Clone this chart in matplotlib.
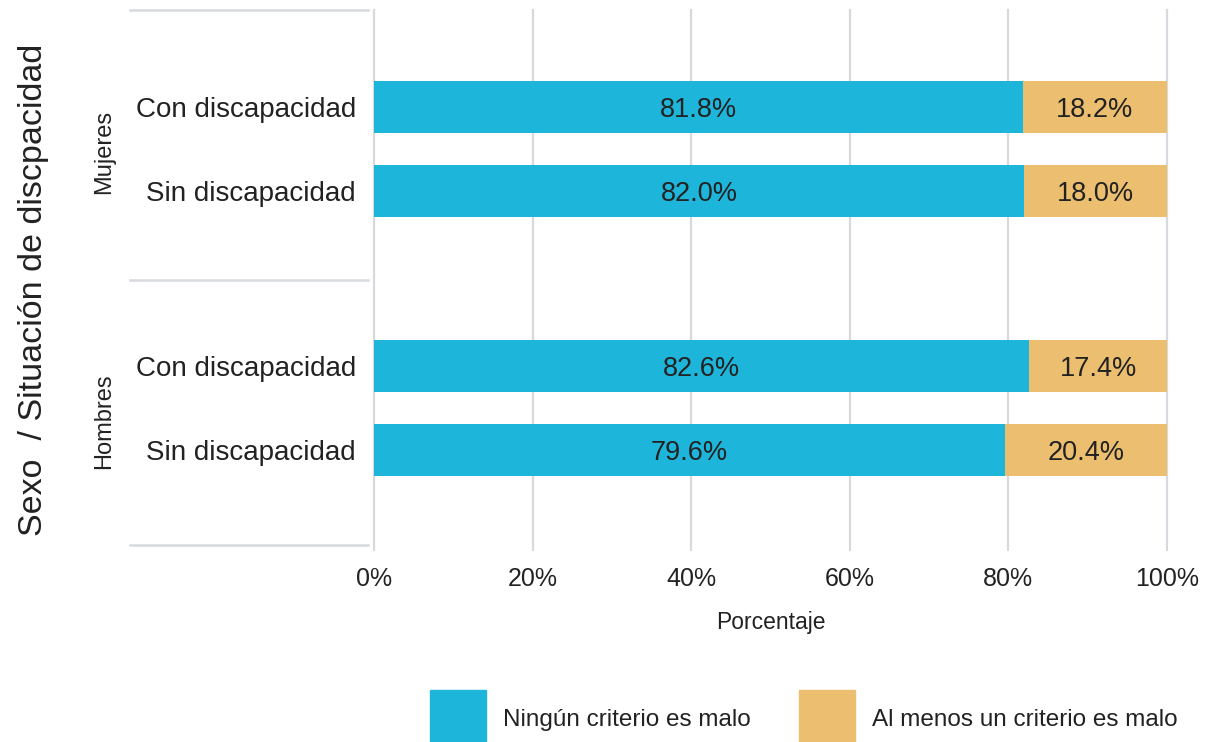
import matplotlib
matplotlib.use("Agg")
import matplotlib.pyplot as plt
from matplotlib.patches import Rectangle
from matplotlib.lines import Line2D
import matplotlib.transforms as mtransforms

plt.rcParams['font.family'] = ['Liberation Sans', 'DejaVu Sans']

# Data
groups = ["Mujeres", "Hombres"]
categories = ["Con discapacidad", "Sin discapacidad",
              "Con discapacidad", "Sin discapacidad"]
ningun = [81.8, 82.0, 82.6, 79.6]
al_menos = [18.2, 18.0, 17.4, 20.4]
series_names = ["Ningún criterio es malo", "Al menos un criterio es malo"]
xticks = [0, 20, 40, 60, 80, 100]
xticklabels = ["0%", "20%", "40%", "60%", "80%", "100%"]

BLUE = "#1eb5db"
ORANGE = "#ecbe70"
GRID = "#d6d9de"
TEXT = "#222222"

W, H = 1214, 742
fig = plt.figure(figsize=(W / 100, H / 100), dpi=100)
ax = fig.add_axes([374 / W, (H - 545) / H, (1167 - 374) / W, (545 - 10) / H])

# bar positions: two groups of two bars
ypos = [0.0, 1.0, 3.08, 4.08]
bar_h = 0.62

ax.barh(ypos, ningun, height=bar_h, color=BLUE, zorder=3)
ax.barh(ypos, al_menos, left=ningun, height=bar_h, color=ORANGE, zorder=3)

for y, a, b in zip(ypos, ningun, al_menos):
    ax.text(a / 2, y + 0.03, f"{a:.1f}%", ha="center", va="center",
            fontsize=19.5, color=TEXT, zorder=4)
    ax.text(a + b / 2, y + 0.03, f"{b:.1f}%", ha="center", va="center",
            fontsize=19.5, color=TEXT, zorder=4)

ax.set_xlim(0, 100)
ax.set_ylim(5.21, -1.16)

ax.set_yticks(ypos)
ax.set_yticklabels(categories, fontsize=20, color=TEXT)
ax.tick_params(axis="y", length=0, pad=13)

ax.set_xticks(xticks)
ax.set_xticklabels(xticklabels, fontsize=18, color=TEXT)
ax.tick_params(axis="x", length=4, width=1.5, color=GRID, pad=12)

ax.xaxis.grid(True, color=GRID, linewidth=1.6, zorder=0)
ax.set_axisbelow(True)
for gl in ax.get_xgridlines():
    gl.set_clip_on(False)
for s in ax.spines.values():
    s.set_visible(False)

ax.set_xlabel("Porcentaje", fontsize=16.5, color=TEXT, labelpad=14)

# group separators on the left
trans = mtransforms.blended_transform_factory(ax.transAxes, ax.transData)
x0, x1 = (130 - 374) / (1167 - 374), (368 - 374) / (1167 - 374)
for yy in [-1.16, 2.05, 5.21]:
    ax.add_line(Line2D([x0, x1], [yy, yy], transform=trans, color=GRID,
                       linewidth=1.8, clip_on=False))

# group labels
gx = 104 / W
fig.text(gx, (H - 152) / H, groups[0], rotation=90, ha="center", va="center",
         fontsize=17, color=TEXT)
fig.text(gx, (H - 421) / H, groups[1], rotation=90, ha="center", va="center",
         fontsize=17, color=TEXT)

fig.text(34 / W, (H - 290) / H, "Sexo  / Situación de discpacidad",
         rotation=90, ha="center", va="center", fontsize=24.5, color=TEXT)

# legend
fig.add_artist(Rectangle((430 / W, 0), 56 / W, 52 / H,
                         transform=fig.transFigure, color=BLUE))
fig.text(503 / W, (H - 720) / H, series_names[0], ha="left", va="center",
         fontsize=17.5, color=TEXT)
fig.add_artist(Rectangle((799 / W, 0), 56 / W, 52 / H,
                         transform=fig.transFigure, color=ORANGE))
fig.text(872 / W, (H - 720) / H, series_names[1], ha="left", va="center",
         fontsize=17.5, color=TEXT)

fig.savefig("out.png", dpi=100)
